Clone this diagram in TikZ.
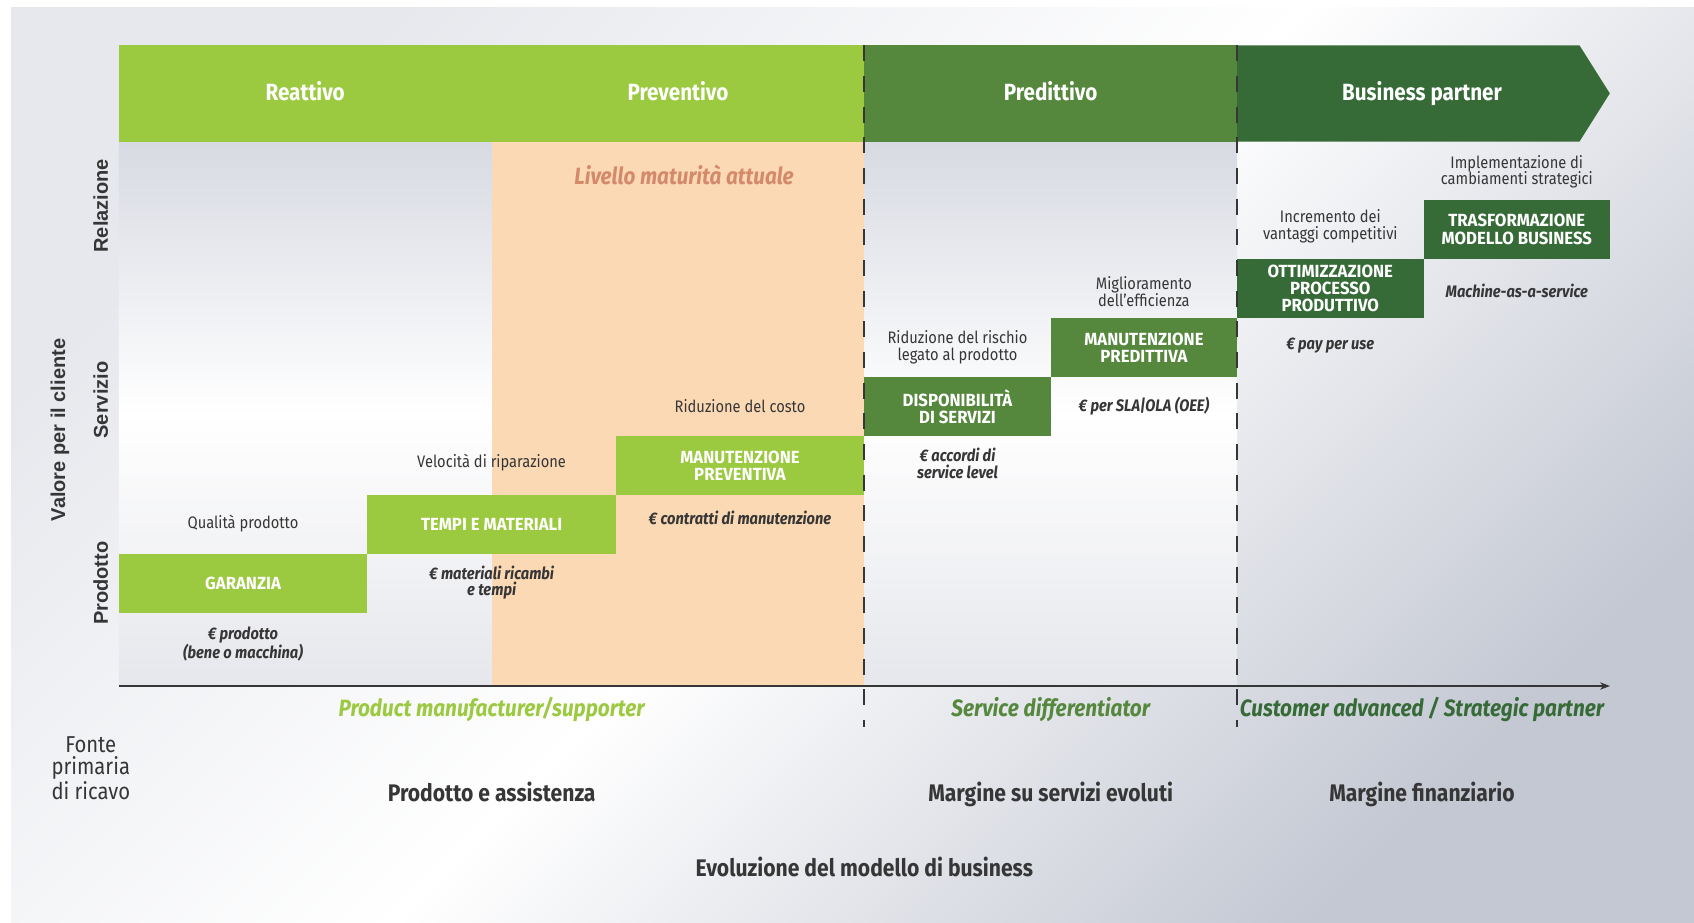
\documentclass[tikz,border=0pt]{standalone}
\usepackage{fontspec}
\setmainfont[FakeStretch=0.88]{Fira Sans}
\newfontfamily\capsfont[FakeStretch=0.95]{Fira Sans}
\newfontfamily\axisfont{Liberation Sans}
\usetikzlibrary{arrows.meta}

\definecolor{lightgreen}{HTML}{9BC93F}
\definecolor{midgreen}{HTML}{55873D}
\definecolor{darkgreen}{HTML}{366B37}
\definecolor{peach}{HTML}{FBD9B4}
\definecolor{salmon}{HTML}{D4896A}
\definecolor{ink}{HTML}{363636}
\definecolor{bgtop}{HTML}{E6E8ED}
\definecolor{bgbottom}{HTML}{C4C8D3}
\definecolor{plottop}{HTML}{D7DAE2}
\definecolor{plotbottom}{HTML}{E6E7EC}

\tikzset{every picture/.style={line width=0.75pt}}
\tikzset{
  phase/.style={text=white, anchor=base, inner sep=0.75pt, font=\fontsize{17.6}{18}\selectfont\bfseries},
  stepbox/.style={text=white, align=center, inner sep=0.75pt, font=\capsfont\fontsize{13.2}{13}\selectfont\bfseries},
  gain/.style={text=ink, align=center, inner sep=0.75pt, font=\fontsize{12.5}{12.5}\selectfont},
  price/.style={text=ink, align=center, inner sep=0.75pt, font=\fontsize{12.5}{12.5}\selectfont\bfseries\itshape},
  actor/.style={anchor=base, inner sep=0.75pt, font=\fontsize{17.7}{18}\selectfont\bfseries\itshape},
  revenue/.style={text=ink, anchor=base, inner sep=0.75pt, font=\fontsize{18}{19}\selectfont\bfseries},
  source/.style={text=ink, align=center, inner sep=0.75pt, font=\fontsize{17.25}{16.7}\selectfont},
  level/.style={text=ink, rotate=90, inner sep=0.75pt, font=\axisfont\fontsize{15}{16}\selectfont\bfseries},
  maturity/.style={text=salmon, anchor=base, inner sep=0.75pt, font=\fontsize{17.6}{18}\selectfont\bfseries\itshape},
  phase border/.style={color=ink, line width=1.5, dash pattern=on 12pt off 11pt},
}

\begin{document}
\begin{tikzpicture}[x=0.75pt,y=0.75pt,yscale=-1,xscale=1]
\useasboundingbox (0,0) rectangle (1694,922);

%Shape: Rectangle [id:background]
\shade [top color=bgtop, bottom color=bgbottom, middle color=white, shading angle=45] (11,7) rectangle (1694,922);
%Shape: Rectangle [id:plot area]
\shade [top color=plottop, bottom color=plotbottom, middle color=white] (118.8,141.5) rectangle (1237.1,686);
%Shape: Rectangle [id:current level]
\fill [peach] (491.6,141.5) rectangle (864.3,686);

%Shape: Rectangle [id:header light]
\fill [lightgreen] (118.8,45.4) rectangle (864.3,141.5);
%Shape: Rectangle [id:header mid]
\fill [midgreen] (864.3,45.4) rectangle (1237.1,141.5);
%Shape: Pentagon Arrow [id:header dark]
\fill [darkgreen] (1237.1,45.4) -- (1579.5,45.4) -- (1609.8,93.4) -- (1579.5,141.5) -- (1237.1,141.5) -- cycle;

%Shape: Rectangle [id:steps]
\fill [lightgreen] (118.8,554) rectangle (367.3,613);
\fill [lightgreen] (367.3,495) rectangle (615.8,554);
\fill [lightgreen] (615.8,436) rectangle (864.3,495);
\fill [midgreen] (864.3,377) rectangle (1050.7,436);
\fill [midgreen] (1050.7,318) rectangle (1237.1,377);
\fill [darkgreen] (1237.1,259) rectangle (1423.5,318);
\fill [darkgreen] (1423.5,200) rectangle (1610,259);

%Straight Lines [id:phase borders]
\coordinate (predTop) at (864.3,45.4);
\coordinate (predBot) at (864.3,727);
\coordinate (partnerTop) at (1237.1,45.4);
\coordinate (partnerBot) at (1237.1,727);
\draw [phase border] (predTop) -- (predBot);
\draw [phase border] (partnerTop) -- (partnerBot);

%Straight Lines [id:axis]
\coordinate (origin) at (118.8,686);
\coordinate (axisEnd) at (1610,686);
\draw [color=ink, line width=1.5, -{Stealth[length=7.5pt,width=5.5pt]}] (origin) -- (axisEnd);

% Text Node
\draw (305.2,100.7) node [phase] (reattivo) {Reattivo};
% Text Node
\draw (678,100.7) node [phase] (preventivo) {Preventivo};
% Text Node
\draw (1050.7,100.7) node [phase] (predittivo) {Predittivo};
% Text Node
\draw (1422,100.7) node [phase] (bpartner) {Business partner};
% Text Node
\draw (684,184.3) node [maturity] (livello) {Livello maturità attuale};

% Text Node
\draw (243,583.5) node [stepbox] (garanzia) {GARANZIA};
% Text Node
\draw (491.6,524.5) node [stepbox] (tempi) {TEMPI E MATERIALI};
% Text Node
\draw (740,465.5) node [stepbox] (preventiva) {MANUTENZIONE\\PREVENTIVA};
% Text Node
\draw (957.5,406.5) node [stepbox] (disponibilita) {DISPONIBILITÀ\\DI SERVIZI};
% Text Node
\draw (1143.9,347.5) node [stepbox] (predittiva) {MANUTENZIONE\\PREDITTIVA};
% Text Node
\draw (1330.3,288.5) node [stepbox] (ottimizzazione) {OTTIMIZZAZIONE\\PROCESSO\\PRODUTTIVO};
% Text Node
\draw (1516.8,229.5) node [stepbox] (trasformazione) {TRASFORMAZIONE\\MODELLO BUSINESS};

% Text Node
\draw (243,523.3) node [gain] (qualita) {Qualità prodotto};
% Text Node
\draw (491.6,462.7) node [gain] (velocita) {Velocità di riparazione};
% Text Node
\draw (740,406) node [gain] (costo) {Riduzione del costo};
% Text Node
\draw (957.5,347.3) node [gain] (rischio) {Riduzione del rischio\\legato al prodotto};
% Text Node
\draw (1143.9,291.3) node [gain] (efficienza) {Miglioramento\\dell’efficienza};
% Text Node
\draw (1330.3,226.5) node [gain] (vantaggi) {Incremento dei\\vantaggi competitivi};
% Text Node
\draw (1516.8,171.7) node [gain] (cambiamenti) {Implementazione di\\cambiamenti strategici};

% Text Node
\draw (243,644) node [price] (euroProdotto) {€ prodotto\\(bene o macchina)};
% Text Node
\draw (491.6,582.5) node [price] (euroMateriali) {€ materiali ricambi\\e tempi};
% Text Node
\draw (740,518.3) node [price] (euroContratti) {€ contratti di manutenzione};
% Text Node
\draw (957.5,463.3) node [price] (euroAccordi) {€ accordi di\\service level};
% Text Node
\draw (1143.9,405.7) node [price] (euroSla) {€ per SLA|OLA (OEE)};
% Text Node
\draw (1330.3,346) node [price] (euroPay) {€ pay per use};
% Text Node
\draw (1516.8,290.7) node [price] (maas) {Machine-as-a-service};

% Text Node
\draw (60,430) node [level] (valore) {Valore per il cliente};
% Text Node
\draw (100.8,205.8) node [level] (relazione) {Relazione};
% Text Node
\draw (100.8,400) node [level] (servizio) {Servizio};
% Text Node
\draw (100.8,583.3) node [level] (prodotto) {Prodotto};

% Text Node
\draw (491.6,716) node [actor, text=lightgreen] (manufacturer) {Product manufacturer/supporter};
% Text Node
\draw (1050.7,716) node [actor, text=midgreen] (differentiator) {Service differentiator};
% Text Node
\draw (1422,716) node [actor, text=darkgreen] (strategic) {Customer advanced / Strategic partner};

% Text Node
\draw (90.8,768) node [source] (fonte) {Fonte\\primaria\\di ricavo};
% Text Node
\draw (491.6,801.7) node [revenue] (assistenza) {Prodotto e assistenza};
% Text Node
\draw (1050.7,801.7) node [revenue] (evoluti) {Margine su servizi evoluti};
% Text Node
\draw (1422,801.7) node [revenue] (finanziario) {Margine finanziario};
% Text Node
\draw (864.3,876.7) node [revenue] (evoluzione) {Evoluzione del modello di business};

\end{tikzpicture}
\end{document}
